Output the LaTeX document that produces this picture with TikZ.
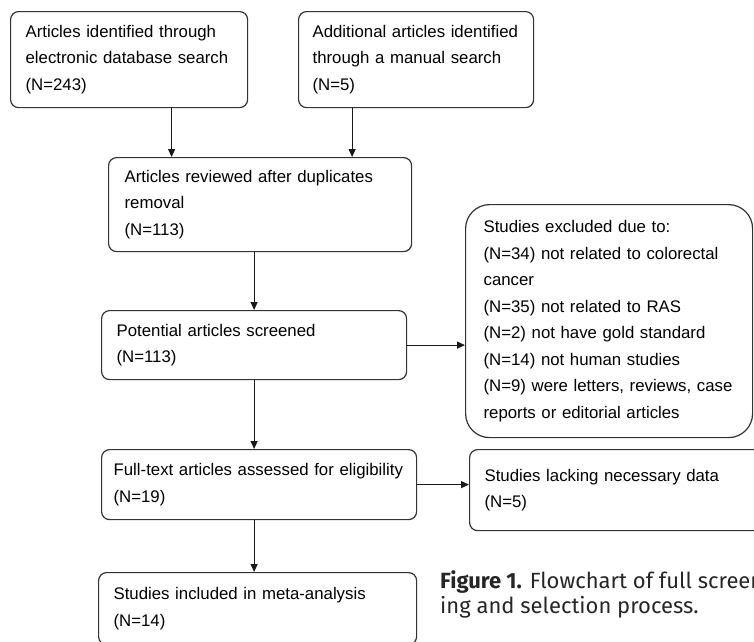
\documentclass[tikz,border=0pt]{standalone}
\usepackage{fontspec}
\usepackage{xcolor}
\usepackage{tikz}
\usetikzlibrary{arrows.meta}
\usetikzlibrary{shapes}

\newfontfamily\boxfont{Liberation Sans}
\newfontfamily\capfont{Fira Sans}

\tikzset{
    flowbox/.style = {draw = black!80, line width = 1.2pt, rounded corners = 8pt,
        anchor = north west, align = left, inner xsep = 15pt, inner ysep = 4pt,
        font = \boxfont\fontsize{16.8}{26.5}\selectfont},
    flowarrow/.style = {draw = black!90, line width = 1.2pt,
        -{Triangle[length = 8pt, width = 7pt]}}
}

\begin{document}
\begin{tikzpicture}[x = 1pt, y = -1pt]
        \useasboundingbox (0, 0) rectangle (754, 641);
        \clip (0, 0) rectangle (754, 641);

        \node[flowbox, text width = 207, minimum height = 96] (ident) at (10, 11)
            {Articles identified through\\electronic database search\\(N=243)};
        \node[flowbox, text width = 207, minimum height = 96, inner xsep = 14pt] (manual) at (298, 11)
            {Additional articles identified\\through a manual search\\(N=5)};
        \node[flowbox, text width = 271, minimum height = 94, inner xsep = 16pt] (review) at (108, 157)
            {Articles reviewed after duplicates\\removal\\(N=113)};
        \node[flowbox, text width = 275, minimum height = 69] (screen) at (101, 310)
            {Potential articles screened\\(N=113)};
        \node[flowbox, text width = 251, minimum height = 233, inner xsep = 18pt,
            rounded corners = 24pt] (excl) at (465, 204)
            {Studies excluded due to:\\(N=34) not related to colorectal\\cancer\\(N=35) not related to RAS\\(N=2) not have gold standard\\(N=14) not human studies\\(N=9) were letters, reviews, case\\reports or editorial articles};
        \node[flowbox, text width = 291, minimum height = 70, inner xsep = 12pt] (full) at (101, 449)
            {Full-text articles assessed for eligibility\\(N=19)};
        \node[flowbox, text width = 271, minimum height = 81] (lack) at (469, 449)
            {Studies lacking necessary data\\(N=5)};
        \node[flowbox, text width = 288, minimum height = 72] (incl) at (98, 572)
            {Studies included in meta-analysis\\(N=14)};

        \draw[flowarrow] ([xshift = 42.5pt]ident.south) -- ([xshift = 42.5pt]ident.south |- review.north);
        \draw[flowarrow] ([xshift = -64pt]manual.south) -- ([xshift = -64pt]manual.south |- review.north);
        \draw[flowarrow] (review.south -| screen.north) -- (screen.north);
        \draw[flowarrow] (screen.east) -- (screen.east -| excl.west);
        \draw[flowarrow] (screen.south) -- (screen.south |- full.north);
        \draw[flowarrow] (full.east) -- (full.east -| lack.west);
        \draw[flowarrow] (full.south -| screen.south) -- (incl.north -| screen.south);

        \node[anchor = base west, align = left, text = black!85, inner sep = 0pt,
            font = \capfont\fontsize{22}{25}\selectfont] (cap) at (440, 613)
            {\textbf{Figure 1.} Flowchart of full screen-\\ing and selection process.};
\end{tikzpicture}
\end{document}
